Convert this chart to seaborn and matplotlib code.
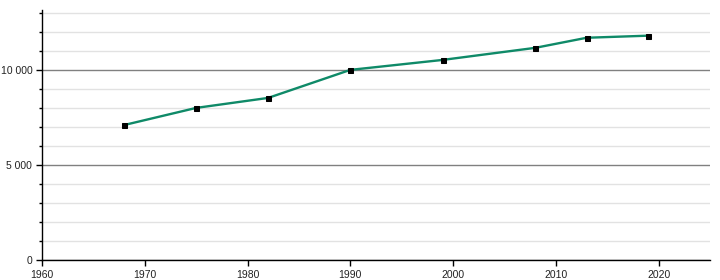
import matplotlib
matplotlib.use("Agg")
import matplotlib.pyplot as plt
import seaborn as sns
import pandas as pd
from matplotlib.ticker import MultipleLocator, FuncFormatter

years = [1968, 1975, 1982, 1990, 1999, 2008, 2013, 2019]
population = [7100, 8000, 8525, 10000, 10525, 11160, 11690, 11800]

df = pd.DataFrame({"year": years, "population": population})

sns.set_theme(style="white")
plt.rcParams['font.family'] = ['Liberation Sans', 'DejaVu Sans']

fig = plt.figure(figsize=(7.2, 2.8), dpi=100)
ax = fig.add_axes([42/720, 20/280, (710-42)/720, (260-10)/280])

ax.set_xlim(1960, 2025)
ax.set_ylim(0, 13150)

ax.yaxis.set_major_locator(MultipleLocator(5000))
ax.yaxis.set_minor_locator(MultipleLocator(1000))
ax.xaxis.set_major_locator(MultipleLocator(10))

ax.grid(which='minor', axis='y', color='#e2e2e2', linewidth=1)
ax.grid(which='major', axis='y', color='#808080', linewidth=1)
ax.set_axisbelow(True)

sns.lineplot(data=df, x="year", y="population", ax=ax, color="#0f8a68",
             linewidth=1.7, marker="s", markersize=3.6,
             markerfacecolor="black", markeredgecolor="black", zorder=3)

ax.yaxis.set_major_formatter(FuncFormatter(lambda v, p: f"{int(v):,}".replace(",", " ")))

for s in ["top", "right"]:
    ax.spines[s].set_visible(False)
for s in ["left", "bottom"]:
    ax.spines[s].set_color("black")
    ax.spines[s].set_linewidth(1)

ax.tick_params(axis='both', which='major', direction='out', length=4, width=1,
               color='black', labelsize=7.5, labelcolor='#222222', left=True, bottom=True, pad=3)
ax.tick_params(axis='y', which='minor', direction='out', length=2, width=1,
               color='black', left=True)
ax.set_xlabel("")
ax.set_ylabel("")

fig.savefig("out.png", dpi=100)
